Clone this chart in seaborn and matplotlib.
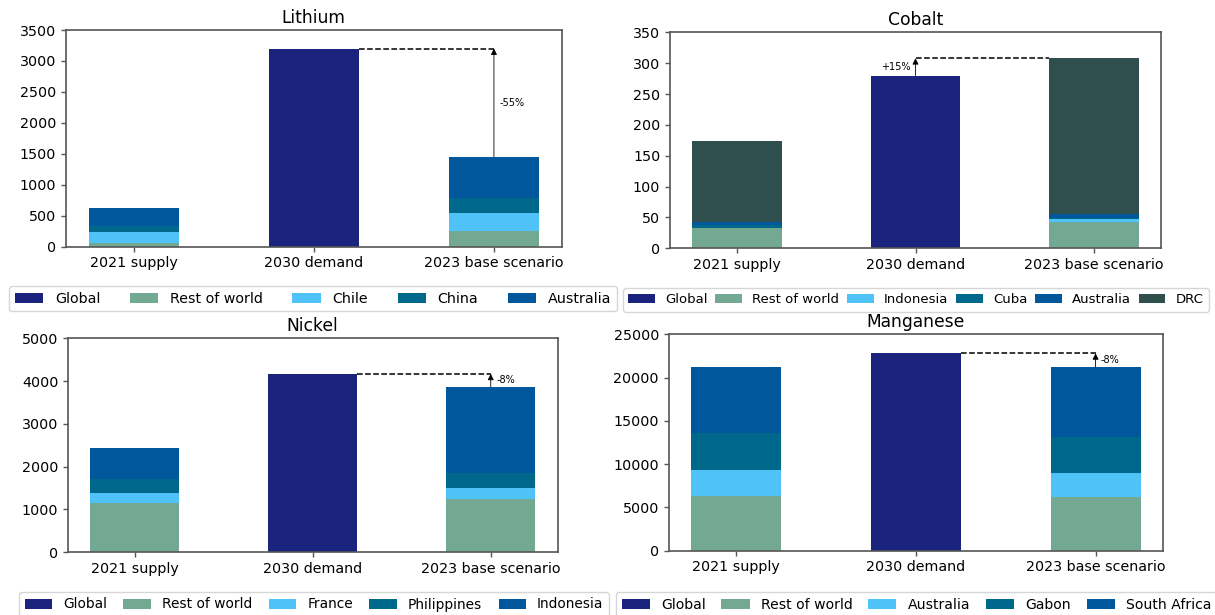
import numpy as np
import matplotlib
matplotlib.use("Agg")
import matplotlib.pyplot as plt
from matplotlib.patches import Patch
import seaborn as sns

# ---------------------------------------------------------------- data
categories = ["2021 supply", "2030 demand", "2023 base scenario"]

lithium_names = ["Global", "Rest of world", "Chile", "China", "Australia"]
lithium_global = [0, 3200, 0]
lithium_rest = [65, 0, 248]
lithium_chile = [166, 0, 296]
lithium_china = [108, 0, 237]
lithium_australia = [281, 0, 673]
lithium_change = "-55%"

cobalt_names = ["Global", "Rest of world", "Indonesia", "Cuba", "Australia", "DRC"]
cobalt_global = [0, 280, 0]
cobalt_rest = [33, 0, 42]
cobalt_indonesia = [0, 0, 6]
cobalt_cuba = [4, 0, 1]
cobalt_australia = [6, 0, 6]
cobalt_drc = [131, 0, 253]
cobalt_change = "+15%"

nickel_names = ["Global", "Rest of world", "France", "Philippines", "Indonesia"]
nickel_global = [0, 4170, 0]
nickel_rest = [1160, 0, 1240]
nickel_france = [220, 0, 270]
nickel_philippines = [335, 0, 345]
nickel_indonesia = [715, 0, 2015]
nickel_change = "-8%"

manganese_names = ["Global", "Rest of world", "Australia", "Gabon", "South Africa"]
manganese_global = [0, 22800, 0]
manganese_rest = [6350, 0, 6160]
manganese_australia = [3000, 0, 2780]
manganese_gabon = [4200, 0, 4240]
manganese_south_africa = [7630, 0, 8010]
manganese_change = "-8%"

# ---------------------------------------------------------------- style
NAVY = "#1a237e"
SAGE = "#73a993"
SKY = "#4fc3f7"
TEAL = "#00688b"
BLUE = "#01579b"
SLATE = "#2f4f4f"
SPINE = "#555555"

plt.rcParams["font.family"] = ["DejaVu Sans"]

W, H = 1215, 615
fig = plt.figure(figsize=(W / 100, H / 100), dpi=100)


def add_axes_px(left, top, right, bottom):
    return fig.add_axes([left / W, 1 - bottom / H, (right - left) / W, (bottom - top) / H])


def draw_panel(ax, title, names, layers, colors, ymax, ystep, change,
               legend_box, legend_size):
    layers = np.array(layers, dtype=float)
    cum = np.cumsum(layers, axis=0)
    # stacked bars: draw cumulative totals from the top layer downwards
    for i in reversed(range(len(layers))):
        sns.barplot(x=categories, y=cum[i], order=categories, color=colors[i],
                    width=0.5, saturation=1, linewidth=0, errorbar=None, ax=ax)

    ax.set_xlim(-0.375, 2.375)
    ax.set_ylim(0, ymax)
    ax.set_yticks(np.arange(0, ymax + ystep / 2, ystep))
    ax.set_xlabel("")
    ax.set_ylabel("")
    ax.set_title(title, fontsize=12.3, pad=5)
    ax.tick_params(labelsize=10.3, color=SPINE, width=1.0)
    for sp in ax.spines.values():
        sp.set_color(SPINE)
        sp.set_linewidth(1.2)

    demand = cum[-1][1]
    base = cum[-1][2]
    arrow_kw = dict(arrowstyle="-|>", color="black", lw=0.6,
                    mutation_scale=9, shrinkA=0, shrinkB=0)
    mid = (demand + base) / 2
    if base < demand:
        ax.plot([1.25, 2.0], [demand, demand], ls="--", color="black", lw=1.1)
        ax.annotate("", xy=(2.0, demand), xytext=(2.0, base), arrowprops=arrow_kw)
        ax.text(2.03, mid, change, fontsize=7, ha="left", va="center")
    else:
        ax.plot([1.0, 1.75], [base, base], ls="--", color="black", lw=1.1)
        ax.annotate("", xy=(1.0, base), xytext=(1.0, demand), arrowprops=arrow_kw)
        ax.text(0.97, mid, change, fontsize=7, ha="right", va="center")

    handles = [Patch(facecolor=c, edgecolor="none", label=n) for n, c in zip(names, colors)]
    x0, top, x1 = legend_box
    fig.legend(handles=handles, loc="upper left", ncol=len(handles), mode="expand",
               bbox_to_anchor=(x0 / W, 1 - top / H, (x1 - x0) / W, 0),
               bbox_transform=fig.transFigure, borderaxespad=0, fontsize=legend_size,
               handlelength=2.0, handletextpad=0.8, columnspacing=0.5)


ax_li = add_axes_px(66, 30, 561.5, 246.7)
draw_panel(ax_li, "Lithium", lithium_names,
           [lithium_global, lithium_rest, lithium_chile, lithium_china, lithium_australia],
           [NAVY, SAGE, SKY, TEAL, BLUE], 3500, 500, lithium_change, (9, 286, 617), 10.3)

ax_co = add_axes_px(670, 32.3, 1161, 248.3)
draw_panel(ax_co, "Cobalt", cobalt_names,
           [cobalt_global, cobalt_rest, cobalt_indonesia, cobalt_cuba, cobalt_australia, cobalt_drc],
           [NAVY, SAGE, SKY, TEAL, BLUE, SLATE], 350, 50, cobalt_change, (623, 288, 1209), 9.5)

ax_ni = add_axes_px(68, 338.3, 557.5, 552.3)
draw_panel(ax_ni, "Nickel", nickel_names,
           [nickel_global, nickel_rest, nickel_france, nickel_philippines, nickel_indonesia],
           [NAVY, SAGE, SKY, TEAL, BLUE], 5000, 1000, nickel_change, (19, 592, 609), 9.9)

ax_mn = add_axes_px(668.7, 334.3, 1163, 550.7)
draw_panel(ax_mn, "Manganese", manganese_names,
           [manganese_global, manganese_rest, manganese_australia, manganese_gabon,
            manganese_south_africa],
           [NAVY, SAGE, SKY, TEAL, BLUE], 25000, 5000, manganese_change, (616, 592, 1217), 10.1)

fig.savefig("out.png", dpi=100)
